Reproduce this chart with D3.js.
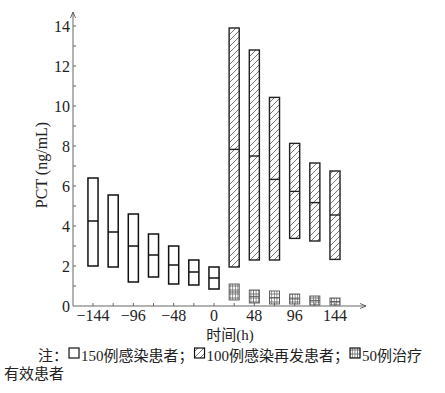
<!DOCTYPE html>
<html>
<head>
<meta charset="utf-8">
<script src="https://cdn.jsdelivr.net/npm/d3@7"></script>
<style>
  body { margin: 0; background: #fff; }
  text { font-family: "Liberation Serif", "Times New Roman", serif; fill: #222; }
  .cjk { font-family: "Liberation Serif", "Noto Sans CJK SC", serif; }
</style>
</head>
<body>
<svg id="chart" width="445" height="393"></svg>
<script>
// hours relative to event
const hoursInfect = [-144, -120, -96, -72, -48, -24, 0];
const hoursAfter = [24, 48, 72, 96, 120, 144];

// 150 infected patients: [low, median, high]
const infectLow = [2.0, 1.95, 1.2, 1.45, 1.1, 1.05, 0.85];
const infectMed = [4.25, 3.7, 3.0, 2.55, 2.05, 1.7, 1.4];
const infectHigh = [6.4, 5.55, 4.6, 3.6, 3.0, 2.3, 1.95];

// 100 relapse patients
const relapseLow = [1.95, 2.3, 2.3, 3.38, 3.25, 2.33];
const relapseMed = [7.83, 7.5, 6.33, 5.73, 5.17, 4.55];
const relapseHigh = [13.9, 12.8, 10.43, 8.13, 7.15, 6.75];

// 50 effective-treatment patients
const effLow = [0.3, 0.15, 0.1, 0.1, 0.05, 0.05];
const effMed = [0.7, 0.48, 0.42, 0.35, 0.28, 0.22];
const effHigh = [1.1, 0.8, 0.75, 0.6, 0.5, 0.4];

const yTicks = [0, 2, 4, 6, 8, 10, 12, 14];
const xTicks = [-144, -96, -48, 0, 48, 96, 144];

const svg = d3.select("#chart");
const x = d3.scaleLinear().domain([-144, 144]).range([93, 335]);
const y = d3.scaleLinear().domain([0, 14]).range([306, 26]);
const half = x(6) - x(0);

const defs = svg.append("defs");
let hatch = defs.append("pattern").attr("id", "hatch")
  .attr("patternUnits", "userSpaceOnUse").attr("width", 6).attr("height", 6);
hatch.append("path").attr("d", "M-1,7 L7,-1 M-1,1 L1,-1 M5,7 L7,5")
  .attr("stroke", "#666").attr("stroke-width", 0.9);
let grid = defs.append("pattern").attr("id", "grid")
  .attr("patternUnits", "userSpaceOnUse").attr("width", 2.6).attr("height", 4);
grid.append("path").attr("d", "M1.3,0 V4 M0,2 H2.6")
  .attr("stroke", "#666").attr("stroke-width", 0.8);
defs.append("marker").attr("id", "arrow").attr("viewBox", "0 0 8 8")
  .attr("refX", 7).attr("refY", 4).attr("markerWidth", 8).attr("markerHeight", 8)
  .attr("orient", "auto").attr("markerUnits", "userSpaceOnUse")
  .append("path").attr("d", "M1,1.5 L7,4 L1,6.5").attr("fill", "none")
  .attr("stroke", "#555").attr("stroke-width", 0.9);

// axes
svg.append("line").attr("x1", 73).attr("y1", y(0)).attr("x2", 73).attr("y2", 12)
  .attr("stroke", "#666").attr("stroke-width", 1).attr("marker-end", "url(#arrow)");
svg.append("line").attr("x1", 73).attr("y1", y(0)).attr("x2", 366).attr("y2", y(0))
  .attr("stroke", "#666").attr("stroke-width", 1).attr("marker-end", "url(#arrow)");

svg.selectAll(".ytick").data(d3.range(1, 15)).enter().append("line")
  .attr("x1", 73).attr("x2", 76).attr("y1", d => y(d)).attr("y2", d => y(d))
  .attr("stroke", "#666");
svg.selectAll(".xtick").data(d3.range(-144, 145, 24)).enter().append("line")
  .attr("x1", d => x(d)).attr("x2", d => x(d)).attr("y1", y(0)).attr("y2", y(0) - 3)
  .attr("stroke", "#666");

svg.selectAll(".ylab").data(yTicks).enter().append("text")
  .attr("x", 70).attr("y", d => y(d) + 5.5).attr("text-anchor", "end")
  .attr("font-size", 16).text(d => d);
svg.selectAll(".xlab").data(xTicks).enter().append("text")
  .attr("x", d => x(d)).attr("y", 321).attr("text-anchor", "middle")
  .attr("font-size", 16).text(d => d < 0 ? "\u2212" + Math.abs(d) : d);

svg.append("text").attr("transform", "translate(47,165) rotate(-90)")
  .attr("text-anchor", "middle").attr("font-size", 16).text("PCT (ng/mL)");
svg.append("text").attr("class", "cjk").attr("x", 230).attr("y", 340)
  .attr("text-anchor", "middle").attr("font-size", 15).text("时间(h)");

function drawBoxes(cls, hours, lo, med, hi, fill, stroke, sw) {
  const data = hours.map((h, i) => ({ h, lo: lo[i], med: med[i], hi: hi[i] }));
  const g = svg.append("g").attr("class", cls);
  g.selectAll("rect").data(data).enter().append("rect")
    .attr("x", d => x(d.h) - half).attr("width", half * 2)
    .attr("y", d => y(d.hi)).attr("height", d => y(d.lo) - y(d.hi))
    .attr("fill", fill).attr("stroke", stroke).attr("stroke-width", sw);
  g.selectAll("line").data(data).enter().append("line")
    .attr("x1", d => x(d.h) - half).attr("x2", d => x(d.h) + half)
    .attr("y1", d => y(d.med)).attr("y2", d => y(d.med))
    .attr("stroke", stroke).attr("stroke-width", sw);
}
drawBoxes("infect", hoursInfect, infectLow, infectMed, infectHigh, "#fff", "#111", 1.5);
drawBoxes("relapse", hoursAfter, relapseLow, relapseMed, relapseHigh, "url(#hatch)", "#222", 1.4);
drawBoxes("eff", hoursAfter, effLow, effMed, effHigh, "url(#grid)", "#555", 0.9);

// note / legend
const note = svg.append("g").attr("class", "note");
const parts = [
  { t: "注：", icon: null },
  { t: "150例感染患者；", icon: "#fff" },
  { t: "100例感染再发患者；", icon: "url(#hatch)" },
  { t: "50例治疗", icon: "url(#grid)" }
];
let cx = 38;
parts.forEach(p => {
  if (p.icon) {
    note.append("rect").attr("x", cx + 1).attr("y", 348).attr("width", 10).attr("height", 10)
      .attr("fill", p.icon).attr("stroke", "#111").attr("stroke-width", 1.2);
    cx += 13;
  }
  const t = note.append("text").attr("class", "cjk").attr("x", cx).attr("y", 361)
    .attr("font-size", 15).text(p.t);
  cx += t.node().getComputedTextLength();
});
note.append("text").attr("class", "cjk").attr("x", 4).attr("y", 379)
  .attr("font-size", 15).text("有效患者");
</script>
</body>
</html>
